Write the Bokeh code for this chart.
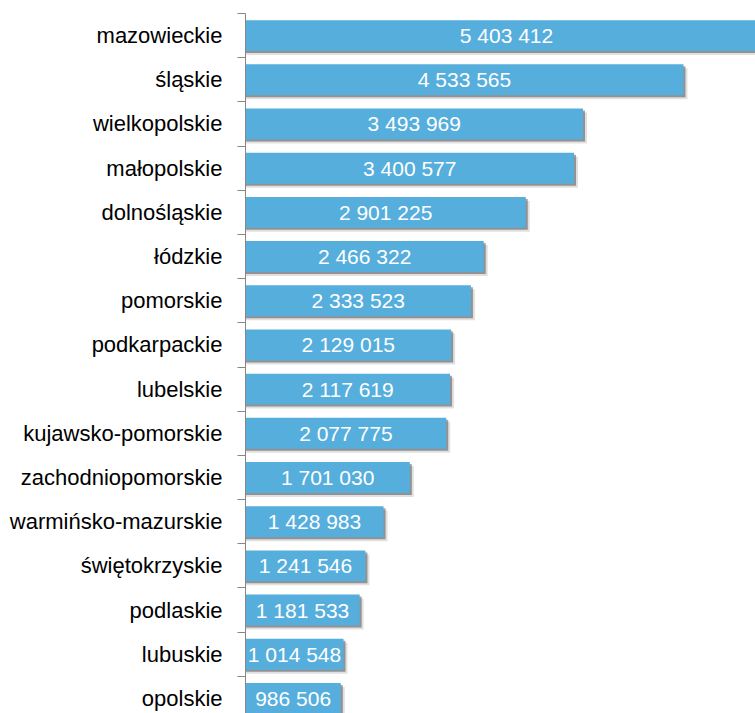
from bokeh.plotting import figure
from bokeh.models import ColumnDataSource, Range1d, FixedTicker
from bokeh.core.properties import value
from bokeh.embed import file_html
from bokeh.resources import INLINE

regions = ["mazowieckie", "śląskie", "wielkopolskie", "małopolskie", "dolnośląskie",
           "łódzkie", "pomorskie", "podkarpackie", "lubelskie", "kujawsko-pomorskie",
           "zachodniopomorskie", "warmińsko-mazurskie", "świętokrzyskie", "podlaskie",
           "lubuskie", "opolskie"]
population = [5403412, 4533565, 3493969, 3400577, 2901225, 2466322, 2333523, 2129015,
              2117619, 2077775, 1701030, 1428983, 1241546, 1181533, 1014548, 986506]

idx = list(range(len(regions)))
labels = [f"{v:,}".replace(",", " ") for v in population]

PX_Y = 44.2
PX_X_UNIT = 9.66e-5

src = ColumnDataSource(dict(
    y=idx, val=population, half=[v / 2 for v in population], lab=labels,
    sh1_r=[v + 2 / PX_X_UNIT for v in population],
    sh2_r=[v + 4 / PX_X_UNIT for v in population],
    y1=[i + 2 / PX_Y for i in idx],
    y2=[i + 4 / PX_Y for i in idx],
))

p = figure(width=755, height=713, output_backend="svg", toolbar_location=None,
           x_range=Range1d(0, 510 / PX_X_UNIT),
           y_range=Range1d(15.34, -0.5),
           min_border_left=245, min_border_right=0, min_border_top=13, min_border_bottom=0)
p.outline_line_color = None
p.xgrid.visible = False
p.ygrid.visible = False
p.xaxis.visible = False

bh = 0.70
p.hbar(y="y2", left=0, right="sh2_r", height=bh, source=src, fill_color="#000000",
       fill_alpha=0.12, line_color=None)
p.hbar(y="y1", left=0, right="sh1_r", height=bh, source=src, fill_color="#000000",
       fill_alpha=0.35, line_color=None)
p.hbar(y="y", left=0, right="val", height=bh, source=src, fill_color="#56AEDD",
       line_color=None)
p.text(x="half", y="y", text="lab", source=src, text_color="white",
       text_font=value("Liberation Sans"), text_font_size="21px",
       text_align="center", text_baseline="middle")

ax = p.yaxis[0]
ax.ticker = FixedTicker(ticks=idx, minor_ticks=[i - 0.5 for i in range(len(regions) + 1)])
ax.major_label_overrides = {i: r for i, r in zip(idx, regions)}
ax.major_tick_out = 0
ax.major_tick_in = 0
ax.minor_tick_out = 8
ax.minor_tick_in = 0
ax.minor_tick_line_color = "#868686"
ax.axis_line_color = "#868686"
ax.major_label_standoff = 15
ax.major_label_text_font = "Liberation Sans"
ax.major_label_text_font_size = "22px"
ax.major_label_text_color = "black"

open("out.html", "w").write(file_html(p, INLINE))
